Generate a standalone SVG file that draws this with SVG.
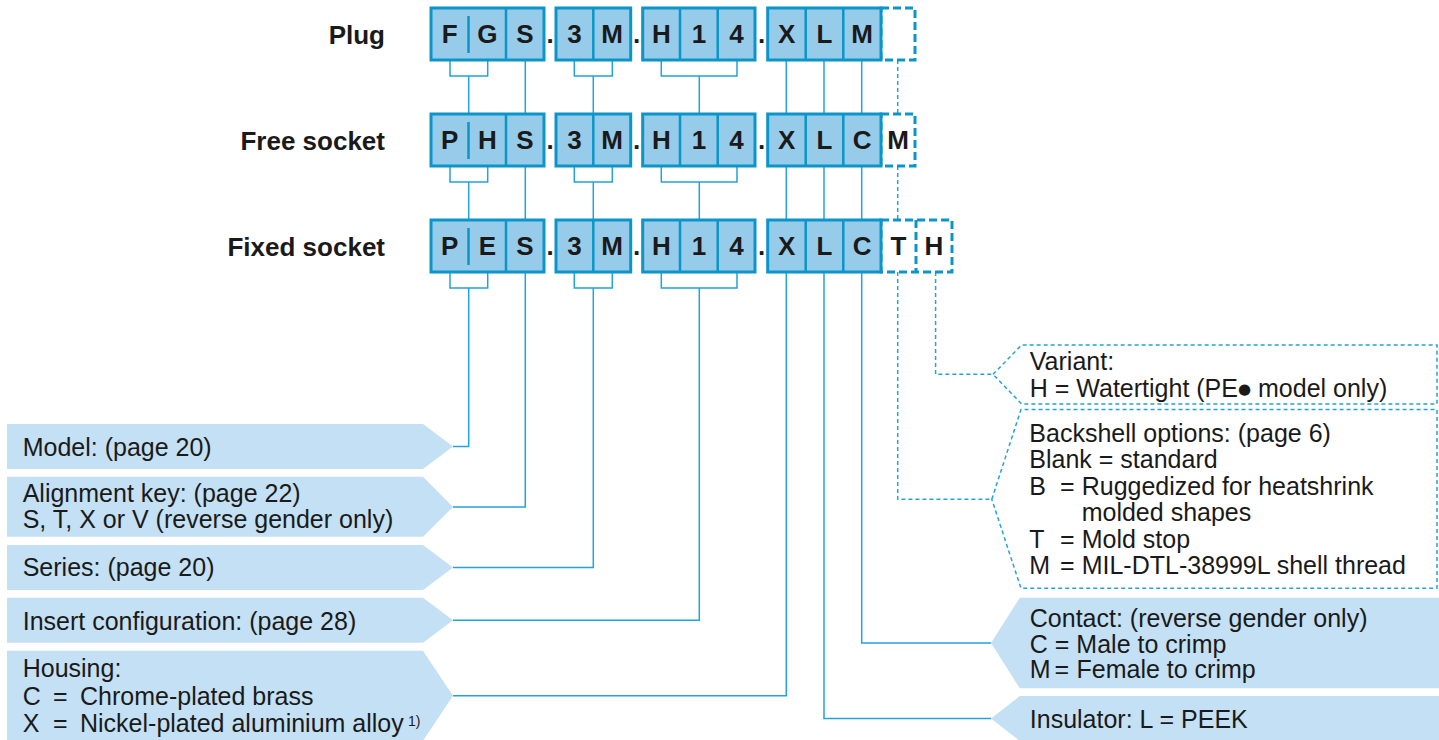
<svg xmlns="http://www.w3.org/2000/svg" width="1439" height="740" viewBox="0 0 1439 740">
<style>
.bg{fill:#ffffff}
.cell{fill:#97cbea;stroke:#0b95c8;stroke-width:3}
.div{stroke:#0b95c8;stroke-width:2.5;fill:none}
.dbox{fill:none;stroke:#0b95c8;stroke-width:3;stroke-dasharray:8 4}
.code{font-family:"Liberation Sans",Arial,sans-serif;font-weight:bold;font-size:26px;fill:#1a1a1a;text-anchor:middle}
.row{font-family:"Liberation Sans",Arial,sans-serif;font-weight:bold;font-size:26px;fill:#1a1a1a;text-anchor:end}
.lab{fill:#c4e0f4}
.dlab{fill:none;stroke:#23a3d9;stroke-width:1.5;stroke-dasharray:4 3}
.txt{font-family:"Liberation Sans",Arial,sans-serif;font-size:25px;fill:#1a1a1a}
.conn{fill:none;stroke:#23a3d9;stroke-width:1.5}
.dconn{fill:none;stroke:#23a3d9;stroke-width:1.5;stroke-dasharray:4 3}
</style>
<rect class="bg" x="0" y="0" width="1439" height="740"/>

<g id="connectors">
  <path class="conn" d="M450,60 V76 H487.7 V60 M574.3,60 V76 H612.3 V60 M661.3,60 V76 H737 V60"/>
  <path class="conn" d="M450,166 V182 H487.7 V166 M574.3,166 V182 H612.3 V166 M661.3,166 V182 H737 V166"/>
  <path class="conn" d="M450,272 V288 H487.7 V272 M574.3,272 V288 H612.3 V272 M661.3,272 V288 H737 V272"/>
  <path class="conn" d="M468.7,76 V114 M468.7,182 V220 M468.7,288 V446.5 H453"/>
  <path class="conn" d="M525.3,60 V114 M525.3,166 V220 M525.3,272 V507 H453"/>
  <path class="conn" d="M593.3,76 V114 M593.3,182 V220 M593.3,288 V567.5 H453"/>
  <path class="conn" d="M699.3,76 V114 M699.3,182 V220 M699.3,288 V620.2 H453"/>
  <path class="conn" d="M786.3,60 V114 M786.3,166 V220 M786.3,272 V695.7 H453"/>
  <path class="conn" d="M824,60 V114 M824,166 V220 M824,272 V718.5 H991"/>
  <path class="conn" d="M861.7,60 V114 M861.7,166 V220 M861.7,272 V643 H991"/>
  <path class="dconn" d="M897.7,60 V114 M897.7,166 V220 M897.7,272 V499.3 H991.8"/>
  <path class="dconn" d="M935.6,272 V374.3 H993"/>
</g>

<g id="row-labels">
  <text class="row" x="385" y="44">Plug</text>
  <text class="row" x="385" y="150">Free socket</text>
  <text class="row" x="385" y="256">Fixed socket</text>
</g>

<g id="plug">
  <g id="plug-model">
    <rect class="cell" x="431" y="8" width="113" height="52"/>
    <path class="div" d="M506,8 V60 M468.5,16 V53"/>
    <text class="code" x="449.7" y="43">F</text>
    <text class="code" x="487.3" y="43">G</text>
    <text class="code" x="525" y="43">S</text>
  </g>
  <text class="code" x="550" y="43">.</text>
  <g id="plug-series">
    <rect class="cell" x="556" y="8" width="74.7" height="52"/>
    <path class="div" d="M593.3,8 V60"/>
    <text class="code" x="574.6" y="43">3</text>
    <text class="code" x="612" y="43">M</text>
  </g>
  <text class="code" x="636.7" y="43">.</text>
  <g id="plug-insert">
    <rect class="cell" x="642.7" y="8" width="112.3" height="52"/>
    <path class="div" d="M680,8 V60 M717.7,8 V60"/>
    <text class="code" x="661.4" y="43">H</text>
    <text class="code" x="698.9" y="43">1</text>
    <text class="code" x="736.4" y="43">4</text>
  </g>
  <text class="code" x="761.7" y="43">.</text>
  <g id="plug-options">
    <rect class="dbox" x="881" y="8" width="34" height="52"/>
    <rect class="cell" x="767.7" y="8" width="113.3" height="52"/>
    <path class="div" d="M805.7,8 V60 M843.3,8 V60"/>
    <text class="code" x="786.7" y="43">X</text>
    <text class="code" x="824.5" y="43">L</text>
    <text class="code" x="862.2" y="43">M</text>
  </g>
</g>

<g id="free-socket">
  <g id="free-model">
    <rect class="cell" x="431" y="114" width="113" height="52"/>
    <path class="div" d="M506,114 V166 M468.5,122 V159"/>
    <text class="code" x="449.7" y="149">P</text>
    <text class="code" x="487.3" y="149">H</text>
    <text class="code" x="525" y="149">S</text>
  </g>
  <text class="code" x="550" y="149">.</text>
  <g id="free-series">
    <rect class="cell" x="556" y="114" width="74.7" height="52"/>
    <path class="div" d="M593.3,114 V166"/>
    <text class="code" x="574.6" y="149">3</text>
    <text class="code" x="612" y="149">M</text>
  </g>
  <text class="code" x="636.7" y="149">.</text>
  <g id="free-insert">
    <rect class="cell" x="642.7" y="114" width="112.3" height="52"/>
    <path class="div" d="M680,114 V166 M717.7,114 V166"/>
    <text class="code" x="661.4" y="149">H</text>
    <text class="code" x="698.9" y="149">1</text>
    <text class="code" x="736.4" y="149">4</text>
  </g>
  <text class="code" x="761.7" y="149">.</text>
  <g id="free-options">
    <rect class="dbox" x="881" y="114" width="34" height="52"/>
    <rect class="cell" x="767.7" y="114" width="113.3" height="52"/>
    <path class="div" d="M805.7,114 V166 M843.3,114 V166"/>
    <text class="code" x="786.7" y="149">X</text>
    <text class="code" x="824.5" y="149">L</text>
    <text class="code" x="862.2" y="149">C</text>
    <text class="code" x="898" y="149">M</text>
  </g>
</g>

<g id="fixed-socket">
  <g id="fixed-model">
    <rect class="cell" x="431" y="220" width="113" height="52"/>
    <path class="div" d="M506,220 V272 M468.5,228 V265"/>
    <text class="code" x="449.7" y="255">P</text>
    <text class="code" x="487.3" y="255">E</text>
    <text class="code" x="525" y="255">S</text>
  </g>
  <text class="code" x="550" y="255">.</text>
  <g id="fixed-series">
    <rect class="cell" x="556" y="220" width="74.7" height="52"/>
    <path class="div" d="M593.3,220 V272"/>
    <text class="code" x="574.6" y="255">3</text>
    <text class="code" x="612" y="255">M</text>
  </g>
  <text class="code" x="636.7" y="255">.</text>
  <g id="fixed-insert">
    <rect class="cell" x="642.7" y="220" width="112.3" height="52"/>
    <path class="div" d="M680,220 V272 M717.7,220 V272"/>
    <text class="code" x="661.4" y="255">H</text>
    <text class="code" x="698.9" y="255">1</text>
    <text class="code" x="736.4" y="255">4</text>
  </g>
  <text class="code" x="761.7" y="255">.</text>
  <g id="fixed-options">
    <rect class="dbox" x="881" y="220" width="71" height="52"/>
    <path class="dbox" d="M916,220 V272"/>
    <rect class="cell" x="767.7" y="220" width="113.3" height="52"/>
    <path class="div" d="M805.7,220 V272 M843.3,220 V272"/>
    <text class="code" x="786.7" y="255">X</text>
    <text class="code" x="824.5" y="255">L</text>
    <text class="code" x="862.2" y="255">C</text>
    <text class="code" x="898.5" y="255">T</text>
    <text class="code" x="934" y="255">H</text>
  </g>
</g>

<g id="label-model">
  <polygon class="lab" points="7,424 423,424 453,446.5 423,469 7,469"/>
  <text class="txt" x="22.7" y="456">Model: (page 20)</text>
</g>
<g id="label-alignment">
  <polygon class="lab" points="7,476.7 423,476.7 453,507 423,536.7 7,536.7"/>
  <text class="txt" x="22.7" y="501.7">Alignment key: (page 22)</text>
  <text class="txt" x="22.7" y="528.3">S, T, X or V (reverse gender only)</text>
</g>
<g id="label-series">
  <polygon class="lab" points="7,545 423,545 453,567.5 423,590 7,590"/>
  <text class="txt" x="22.7" y="576">Series: (page 20)</text>
</g>
<g id="label-insert">
  <polygon class="lab" points="7,597.7 423,597.7 453,620.2 423,642.7 7,642.7"/>
  <text class="txt" x="22.7" y="630">Insert configuration: (page 28)</text>
</g>
<g id="label-housing">
  <polygon class="lab" points="7,650.7 423,650.7 453,695.7 423,740.7 7,740.7"/>
  <text class="txt" x="22.7" y="676.7">Housing:</text>
  <text class="txt" y="705"><tspan x="22.7">C</tspan><tspan x="53">=</tspan><tspan x="80">Chrome-plated brass</tspan></text>
  <text class="txt" y="731.7"><tspan x="22.7">X</tspan><tspan x="53">=</tspan><tspan x="80">Nickel-plated aluminium alloy</tspan></text>
  <text class="txt" x="408" y="726" style="font-size:14px">1)</text>
</g>

<g id="label-variant">
  <polygon class="dlab" points="993,374.3 1021.6,345 1437,345 1437,404 1021.6,404"/>
  <text class="txt" x="1029.8" y="370">Variant:</text>
  <text class="txt" x="1029.8" y="396.7">H = Watertight (PE<tspan dy="-3" style="font-family:'DejaVu Sans',sans-serif;font-size:15px">●</tspan><tspan dy="3"> model only)</tspan></text>
</g>
<g id="label-backshell">
  <polygon class="dlab" points="991.8,499.3 1021,409.5 1437,409.5 1437,588.3 1021,588.3"/>
  <text class="txt" x="1029.3" y="441.7">Backshell options: (page 6)</text>
  <text class="txt" x="1029.3" y="468.3">Blank = standard</text>
  <text class="txt" y="495"><tspan x="1029.3">B</tspan><tspan x="1060">=</tspan><tspan x="1081.7">Ruggedized for heatshrink</tspan></text>
  <text class="txt" x="1081.7" y="520.5">molded shapes</text>
  <text class="txt" y="548.3"><tspan x="1029.3">T</tspan><tspan x="1060">=</tspan><tspan x="1081.7">Mold stop</tspan></text>
  <text class="txt" y="574"><tspan x="1029.3">M</tspan><tspan x="1060">=</tspan><tspan x="1081.7">MIL-DTL-38999L shell thread</tspan></text>
</g>
<g id="label-contact">
  <polygon class="lab" points="1019.8,597.7 1439,597.7 1439,688.3 1019.8,688.3 991,643"/>
  <text class="txt" x="1029.8" y="626.7">Contact: (reverse gender only)</text>
  <text class="txt" x="1029.8" y="652.7">C = Male to crimp</text>
  <text class="txt" y="678.3"><tspan x="1029.8">M</tspan><tspan x="1054.5">=</tspan><tspan x="1076.5">Female to crimp</tspan></text>
</g>
<g id="label-insulator">
  <polygon class="lab" points="1019.8,696 1439,696 1439,741 1019.8,741 991,718.5"/>
  <text class="txt" x="1029.8" y="728.3">Insulator: L = PEEK</text>
</g>
</svg>
